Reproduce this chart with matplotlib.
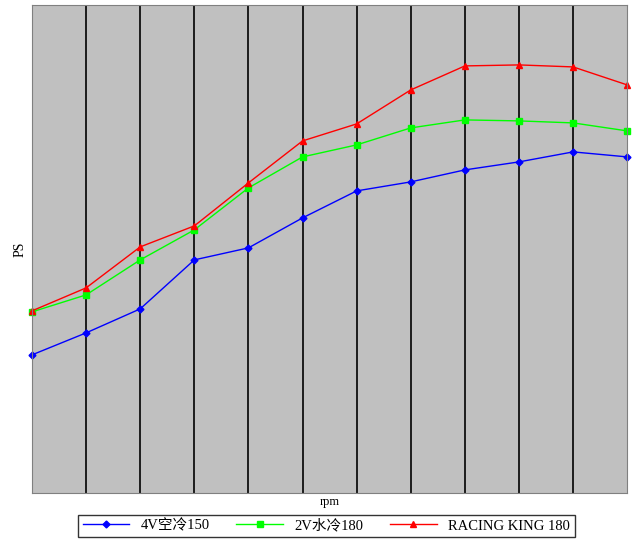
import matplotlib
matplotlib.use("Agg")
import matplotlib.pyplot as plt

rpm_idx = list(range(12))
s_blue = [138, 160, 184, 233, 245, 275, 302, 311, 323, 331, 341, 336]
s_green = [181, 198, 233, 263, 305, 336, 348, 365, 373, 372, 370, 362]
s_red = [182, 205, 246, 267, 310, 352, 369, 403, 427, 428, 426, 408]
names = ["4V空冷150", "2V水冷180", "RACING KING 180"]

fam = ['Liberation Serif', 'Noto Sans CJK SC']
fig = plt.figure(figsize=(6.4, 5.47), dpi=100)
ax = fig.add_axes([0.05, 0.099, 0.93, 0.892])
ax.set_facecolor('#c0c0c0')
ax.plot(rpm_idx, s_blue, color='#0000ff', marker='D', ms=3.5, lw=1, label=names[0], clip_on=False)
ax.plot(rpm_idx, s_green, color='#00ff00', marker='s', ms=4, lw=1, label=names[1], clip_on=False)
ax.plot(rpm_idx, s_red, color='#ff0000', marker='^', ms=5, lw=1, label=names[2], clip_on=False)
for x in rpm_idx[1:-1]:
    ax.axvline(x, color='black', lw=1.2, zorder=0.5)
ax.set_xlim(0, 11)
ax.set_ylim(0, 488)
ax.set_xticks([]); ax.set_yticks([])
for s in ax.spines.values():
    s.set_color('#808080')
ax.set_xlabel('rpm', family=fam, fontsize=9, labelpad=2)
ax.set_ylabel('PS', family=fam, fontsize=10, labelpad=4)
leg = fig.legend(loc='lower center', bbox_to_anchor=(0.51, 0.005), ncol=3,
                 prop={'family': fam, 'size': 10.5}, frameon=True, fancybox=False,
                 edgecolor='black', borderpad=0.3, handlelength=3.2, columnspacing=1.8)
fig.savefig('out.png', dpi=100)
